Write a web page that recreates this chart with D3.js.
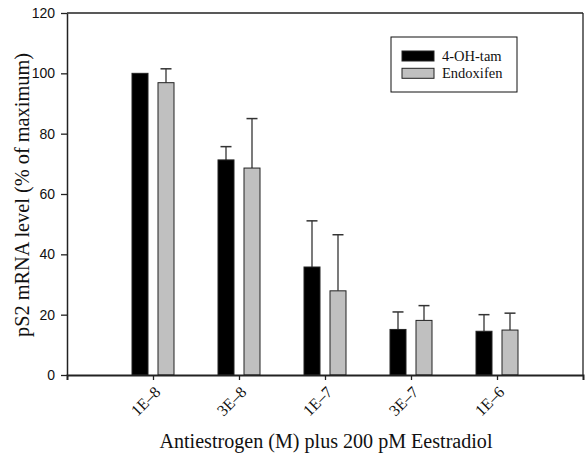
<!DOCTYPE html>
<html><head><meta charset="utf-8">
<script src="https://cdn.jsdelivr.net/npm/d3@7"></script>
<style>body{margin:0;background:#fff}svg{display:block}</style>
</head><body>
<svg id="c" width="585" height="457"></svg>
<script>
const categories = ["1E\u20138","3E\u20138","1E\u20137","3E\u20137","1E\u20136"];
const seriesNames = ["4-OH-tam","Endoxifen"];
const tamValues = [100, 71.3, 35.8, 15.1, 14.5];
const tamErrors = [0, 4.4, 15.3, 5.8, 5.5];
const endoValues = [96.9, 68.6, 27.9, 18.1, 14.9];
const endoErrors = [4.6, 16.4, 18.6, 4.9, 5.6];
const yTicks = [0,20,40,60,80,100,120];

const svg = d3.select("#c");
const L=67, R=583, T=13, B=375;
const x = d3.scaleLinear().domain([0,6]).range([L,R]);
const y = d3.scaleLinear().domain([0,120]).range([B,T]);
const colors = ["#000000","#c0c0c0"];
const serif = "Liberation Serif, Times New Roman, serif";
const sans = "Liberation Sans, Arial, sans-serif";
const series = [
  {name:seriesNames[0], vals:tamValues, errs:tamErrors, off:-21, color:colors[0]},
  {name:seriesNames[1], vals:endoValues, errs:endoErrors, off:5, color:colors[1]}
];
const bw = 16;

// frame top/right
svg.append("line").attr("x1",L).attr("x2",R).attr("y1",T).attr("y2",T).attr("stroke","#222").attr("stroke-width",1.3);
svg.append("line").attr("x1",R).attr("x2",R).attr("y1",T).attr("y2",B).attr("stroke","#222").attr("stroke-width",1.3);

// bars & error bars
series.forEach(s=>{
  const g = svg.append("g");
  s.vals.forEach((v,i)=>{
    const cx = x(i+1)+s.off;
    const mid = cx+bw/2;
    if (s.errs[i]>0){
      g.append("line").attr("x1",mid).attr("x2",mid).attr("y1",y(v)).attr("y2",y(v+s.errs[i])).attr("stroke","#333").attr("stroke-width",1.3);
      g.append("line").attr("x1",mid-5.5).attr("x2",mid+5.5).attr("y1",y(v+s.errs[i])).attr("y2",y(v+s.errs[i])).attr("stroke","#333").attr("stroke-width",1.5);
    }
    g.append("rect").attr("x",cx).attr("y",y(v)).attr("width",bw).attr("height",y(0)-y(v))
      .attr("fill",s.color).attr("stroke","#222").attr("stroke-width",1);
  });
});

// y axis
const ya = svg.append("g").attr("transform",`translate(${L},0)`)
  .call(d3.axisLeft(y).tickValues(yTicks).tickSize(6).tickSizeOuter(0).tickPadding(6));
ya.select(".domain").attr("stroke","#222").attr("stroke-width",1.5);
ya.selectAll(".tick line").attr("stroke","#222").attr("stroke-width",1.3);
ya.selectAll("text").attr("font-family",sans).attr("font-size",14).attr("fill","#111");

// x axis
const xa = svg.append("g").attr("transform",`translate(0,${B})`)
  .call(d3.axisBottom(x).tickValues([1,2,3,4,5]).tickFormat(d=>categories[d-1]).tickSize(5).tickSizeOuter(5).tickPadding(0));
xa.select(".domain").attr("stroke","#222").attr("stroke-width",2);
xa.selectAll(".tick line").attr("stroke","#222").attr("stroke-width",1.3);
xa.selectAll("text").attr("font-family",serif).attr("font-size",16).attr("fill","#111")
  .attr("text-anchor","end").attr("dy",null).attr("y",0)
  .attr("transform","translate(8,18) rotate(-45)");

// axis titles
svg.append("text").attr("x",326).attr("y",448).attr("text-anchor","middle")
  .attr("font-family",serif).attr("font-size",20).attr("fill","#111")
  .attr("textLength",333).attr("lengthAdjust","spacingAndGlyphs")
  .text("Antiestrogen (M) plus 200 pM Eestradiol");
svg.append("text").attr("transform","translate(29,195) rotate(-90)").attr("text-anchor","middle")
  .attr("font-family",serif).attr("font-size",20).attr("fill","#111")
  .attr("textLength",284).attr("lengthAdjust","spacingAndGlyphs")
  .text("pS2 mRNA level (% of maximum)");

// legend
const lg = svg.append("g");
lg.append("rect").attr("x",391).attr("y",37).attr("width",126).attr("height",55).attr("fill","#fff").attr("stroke","#111").attr("stroke-width",1);
series.forEach((s,i)=>{
  lg.append("rect").attr("x",402).attr("y",51+i*17.3).attr("width",32).attr("height",10).attr("fill",s.color).attr("stroke","#222").attr("stroke-width",1);
  lg.append("text").attr("x",442).attr("y",61+i*17.3)
    .attr("font-family",serif).attr("font-size",14.5).attr("fill","#111").text(s.name);
});
</script>
</body></html>
